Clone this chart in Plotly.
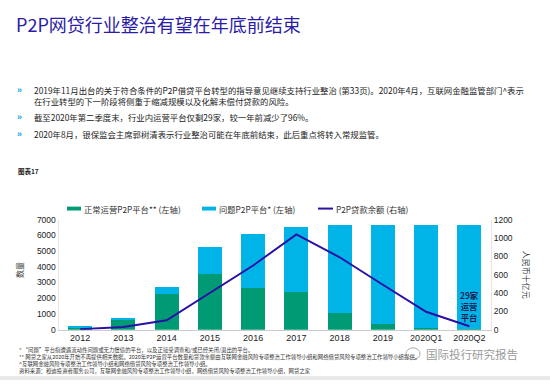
import plotly.graph_objects as go

categories = ["2012", "2013", "2014", "2015", "2016", "2017", "2018", "2019", "2020Q1", "2020Q2"]
normal_platforms = [150, 650, 2275, 3560, 2650, 2420, 1030, 340, 110, 29]
problem_platforms = [50, 110, 420, 1680, 3440, 4140, 5620, 6310, 6530, 6620]
loan_balance = [5, 28, 102, 400, 700, 1040, 790, 490, 195, 37]

left_ticks = [0, 1000, 2000, 3000, 4000, 5000, 6000, 7000]
right_ticks = [0, 200, 400, 600, 800, 1000, 1200]

GREEN = "#009B74"
LBLUE = "#00B4E8"
NAVY = "#2B10A6"
FONT = "Liberation Sans, Arial, Noto Sans CJK SC"
CJK = "Noto Sans CJK SC, Liberation Sans"

W, H = 550, 385
def px(x):
    return x / W
def py(y):
    return 1 - y / H

fig = go.Figure()
fig.add_trace(go.Bar(x=categories, y=normal_platforms, marker=dict(color=GREEN, line=dict(width=0)),
                     width=0.56, name="正常运营P2P平台** (左轴)"))
fig.add_trace(go.Bar(x=categories, y=problem_platforms, marker=dict(color=LBLUE, line=dict(width=0)),
                     width=0.56, name="问题P2P平台* (左轴)"))
fig.add_trace(go.Scatter(x=categories, y=loan_balance, yaxis="y2", mode="lines",
                         line=dict(color=NAVY, width=2), name="P2P贷款余额 (右轴)"))

x0, x1 = 58.5, 491
ytop, ybot = 220.4, 333.3

fig.update_layout(
    width=W, height=H, margin=dict(l=0, r=0, t=0, b=0),
    paper_bgcolor="white", plot_bgcolor="white",
    barmode="stack", showlegend=False,
    font=dict(family=FONT, size=9, color="#222"),
    xaxis=dict(domain=[px(x0), px(x1)], type="category", showline=True, linecolor="#cccccc",
               linewidth=1, ticks="", tickfont=dict(size=9, color="#222")),
    yaxis=dict(domain=[py(ybot), py(ytop)], range=[0, 7000], tickvals=left_ticks,
               showgrid=False, zeroline=False, showline=True, linecolor="#e6e6e6",
               tickfont=dict(size=8.5, color="#222")),
    yaxis2=dict(overlaying="y", side="right", range=[0, 1200], tickvals=right_ticks,
                showgrid=False, zeroline=False, showline=True, linecolor="#e6e6e6",
                tickfont=dict(size=8.5, color="#222")),
)

ann = []
shapes = []

def A(text, x, y, size, color="#222", family=CJK, xanchor="left", **kw):
    d = dict(text=text, x=px(x), y=py(y), xref="paper", yref="paper", xanchor=xanchor,
             yanchor="middle", showarrow=False, font=dict(family=family, size=size, color=color))
    d.update(kw)
    ann.append(d)

# Title
A("P2P网贷行业整治有望在年底前结束", 14, 20, 18, color="#2A1CA6")

# Bullets
for y in (87, 115, 132):
    A("<b>»</b>", 15, y, 9, color="#19A9E5", family=FONT)
A("2019年11月出台的关于符合条件的P2P借贷平台转型的指导意见继续支持行业整治 (第33页)。2020年4月，互联网金融监管部门^表示"
  "<br>在行业转型的下一阶段将侧重于缩减规模以及化解未偿付贷款的风险。", 32, 92.5, 8.4, align="left")
A("截至2020年第二季度末，行业内运营平台仅剩29家，较一年前减少了96%。", 32, 115, 8.4)
A("2020年8月，银保监会主席郭树清表示行业整治可能在年底前结束，此后重点将转入常规监管。", 32, 132, 8.4)

A("<b>图表17</b>", 16, 170, 6.5)

# Legend (manual)
leg = [(67, 81, GREEN, "正常运营P2P平台** (左轴)", "bar"),
       (202, 216, LBLUE, "问题P2P平台* (左轴)", "bar"),
       (318, 333, NAVY, "P2P贷款余额 (右轴)", "line")]
ly = 209
for a, b, c, t, kind in leg:
    if kind == "bar":
        shapes.append(dict(type="rect", xref="paper", yref="paper", x0=px(a), x1=px(b),
                           y0=py(ly + 2), y1=py(ly - 2), fillcolor=c, line=dict(width=0)))
    else:
        shapes.append(dict(type="line", xref="paper", yref="paper", x0=px(a), x1=px(b),
                           y0=py(ly), y1=py(ly), line=dict(color=c, width=2)))
    A(t, b + 1, ly, 8.3, color="#333")

# Axis titles
A("数量", 20, 272, 8, color="#333", xanchor="center", textangle=-90)
A("人民币十亿元", 526, 277, 8, color="#333", xanchor="center", textangle=90)

# In-chart annotation
ann.append(dict(text="<b>29家<br>运营<br>平台</b>", x="2020Q2", y=py(309), xref="x", yref="paper",
                xanchor="center", yanchor="middle", showarrow=False, align="center",
                font=dict(family=CJK, size=8.3, color="#1c1c55")))

# Footnotes
notes = [
    "* “问题”平台指遭遇流动性问题或无力偿债的平台，以及正接受调查和/或已经关闭/退出的平台。",
    "** 网贷之家从2020年开始不再提供相关数据。2020年P2P运营平台数量和贷款余额由互联网金融风险专项整治工作领导小组和网络借贷风险专项整治工作领导小组提供。",
    "^互联网金融风险专项整治工作领导小组和网络借贷风险专项整治工作领导小组。",
    "资料来源：穆迪投资者服务公司，互联网金融风险专项整治工作领导小组，网络借贷风险专项整治工作领导小组，网贷之家",
]
A("<br>".join(notes), 17, 365, 5.4, color="#333", align="left")

# Watermark
shapes.append(dict(type="rect", xref="paper", yref="paper", x0=px(398), x1=px(520), y0=py(366), y1=py(350),
                   fillcolor="white", line=dict(width=0), layer="above"))
shapes.append(dict(type="circle", xref="paper", yref="paper", x0=px(406), x1=px(420), y0=py(364), y1=py(352),
                   fillcolor="rgba(0,0,0,0)", line=dict(color="#aaaaaa", width=1), layer="above"))
A("国际投行研究报告", 424, 358, 11.5, color="#9a9a9a")

# bottom strip
shapes.append(dict(type="rect", xref="paper", yref="paper", x0=0, x1=1, y0=0, y1=py(381),
                   fillcolor="#e9e9e9", line=dict(width=0)))

fig.update_layout(annotations=ann, shapes=shapes)
fig.write_html("out.html", config={"displayModeBar": False},
               post_script="document.body.style.margin='0';")
